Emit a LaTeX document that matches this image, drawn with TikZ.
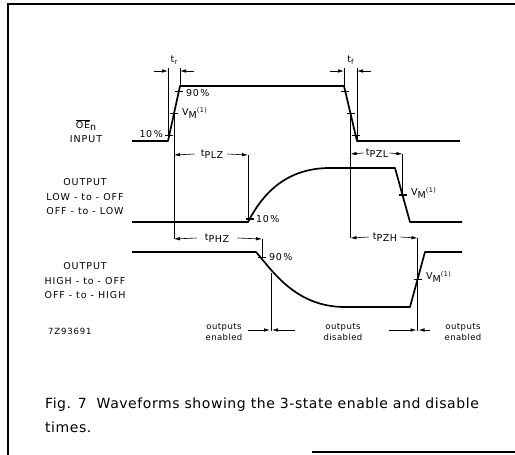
\documentclass[tikz,border=0pt]{standalone}
\usepackage{fontspec}
\setmainfont{DejaVu Sans}
\usetikzlibrary{arrows.meta}
\newcommand{\tsb}[1]{t\raisebox{-2.5pt}{#1}}
\newcommand{\vmone}{V\raisebox{-3pt}{M}\raisebox{3.5pt}{\fontsize{6.5}{7}\selectfont(1)}}
\begin{document}
\begin{tikzpicture}[x=1pt,y=-1pt,
  wave/.style={line width=1.7pt,line join=round},
  refl/.style={line width=0.6pt},
  tickm/.style={line width=1.1pt},
  arr/.style={line width=0.6pt,-{Latex[length=6pt,width=3.5pt]}},
  lbl/.style={font=\fontsize{9.5}{10}\selectfont\addfontfeature{LetterSpace=6},inner sep=0pt},
  side/.style={font=\fontsize{9.5}{14.5}\selectfont\addfontfeature{LetterSpace=10},inner sep=0pt,align=center},
  small/.style={font=\fontsize{8.5}{10.5}\selectfont\addfontfeature{LetterSpace=5},inner sep=0pt,align=center},
  frame/.style={line width=1.1pt}]
\useasboundingbox (0,0) rectangle (515,455);
% frame
\coordinate (f1) at (8,455); \coordinate (f2) at (8,4); \coordinate (f3) at (515,4);
\coordinate (f4) at (312,452); \coordinate (f5) at (515,452);
\draw[frame] (f1) -- (f2) -- (f3);
\draw[frame] (f4) -- (f5);

% ---- OE input waveform
\coordinate (a0) at (132,141); \coordinate (a1) at (168,141);
\coordinate (a2) at (180,86);  \coordinate (a3) at (344,86);
\coordinate (a4) at (357,141); \coordinate (a5) at (460,141);
\draw[wave] (a0) -- (a1) -- (a2) -- (a3) -- (a4) -- (a5);
\coordinate (a10) at (169.2,135.5); \coordinate (avm) at (174,113.5); \coordinate (a90) at (178.8,91.5);
\coordinate (b90) at (345.3,91.5); \coordinate (bvm) at (350.5,113.5); \coordinate (b10) at (355.7,135.5);
\foreach \p in {a10,avm,a90,b90,bvm,b10}
  \draw[tickm] ([xshift=-4pt]\p) -- ([xshift=4pt]\p);

% ---- output LOW-to-OFF
\coordinate (c0) at (132,222); \coordinate (c1) at (248,222);
\coordinate (c2) at (330,168); \coordinate (c3) at (395,168);
\coordinate (c4) at (410,222); \coordinate (c5) at (462,222);
\draw[wave] (c0) -- (c1) .. controls (262,195) and (285,168) .. (c2) -- (c3) -- (c4) -- (c5);
\coordinate (c10) at (250,219); \coordinate (cvm) at (402.5,195);
\foreach \p in {c10,cvm}
  \draw[tickm] ([xshift=-4pt]\p) -- ([xshift=4pt]\p);

% ---- output HIGH-to-OFF
\coordinate (d0) at (132,252); \coordinate (d1) at (256,252);
\coordinate (d2) at (345,307); \coordinate (d3) at (410,307);
\coordinate (d4) at (425,252); \coordinate (d5) at (462,252);
\draw[wave] (d0) -- (d1) .. controls (272,270) and (295,307) .. (d2) -- (d3) -- (d4) -- (d5);
\coordinate (d90) at (262,257.5); \coordinate (dvm) at (417.5,279.5);
\foreach \p in {d90,dvm}
  \draw[tickm] ([xshift=-4pt]\p) -- ([xshift=4pt]\p);

% ---- reference lines
\coordinate (tr1) at (168,68); \coordinate (tr2) at (180,68);
\coordinate (tf1) at (344,68); \coordinate (tf2) at (357,68);
\draw[refl] (tr1) -- (a1); \draw[refl] (tr2) -- (a2);
\draw[refl] (tf1) -- (a3); \draw[refl] (tf2) -- (a4);
\coordinate (vA) at (174,239); \draw[refl] (avm) -- (vA);
\coordinate (vB) at (350.5,238); \draw[refl] (bvm) -- (vB);
\coordinate (plz2) at (248,155); \draw[refl] (plz2) -- (c1);
\coordinate (phz2) at (262,239); \draw[refl] (phz2) -- (d90);
\coordinate (pzl2) at (402.5,154); \draw[refl] (pzl2) -- (cvm);
\coordinate (pzh2) at (417.5,238); \coordinate (en2) at (417.5,331); \draw[refl] (pzh2) -- (en2);
\coordinate (dis1) at (271,273); \coordinate (en1) at (271,331); \draw[refl] (dis1) -- (en1);

% ---- tr / tf
\coordinate (tra) at (154,71); \coordinate (trb) at (168,71);
\coordinate (trc) at (194,71); \coordinate (trd) at (180,71);
\draw[arr] (tra) -- (trb); \draw[arr] (trc) -- (trd);
\node[lbl] (trl) at (174,60) {t\raisebox{-2.5pt}{\fontsize{7}{8}\selectfont r}};
\coordinate (tfa) at (330,71); \coordinate (tfb) at (344,71);
\coordinate (tfc) at (371,71); \coordinate (tfd) at (357,71);
\draw[arr] (tfa) -- (tfb); \draw[arr] (tfc) -- (tfd);
\node[lbl] (tfl) at (350.5,60) {t\raisebox{-2.5pt}{\fontsize{7}{8}\selectfont f}};

% ---- interval arrows
\coordinate (plz1) at (174,155);
\node[lbl] (plz) at (212,154) {\tsb{PLZ}};
\draw[arr] ([xshift=-6pt]plz.west) -- (plz1);
\draw[arr] ([xshift=4pt]plz.east) -- (plz2);

\coordinate (phz1) at (174,239);
\node[lbl] (phz) at (217,238) {\tsb{PHZ}};
\draw[arr] ([xshift=-8pt]phz.west) -- (phz1);
\draw[arr] ([xshift=8pt]phz.east) -- (phz2);

\coordinate (pzl1) at (350.5,154);
\node[lbl] (pzl) at (377,153) {\tsb{PZL}};
\draw[arr] ([xshift=-2pt]pzl.west) -- (pzl1);
\draw[arr] ([xshift=1pt]pzl.east) -- (pzl2);

\coordinate (pzh1) at (350.5,238);
\node[lbl] (pzh) at (385,237) {\tsb{PZH}};
\draw[arr] ([xshift=-4pt]pzh.west) -- (pzh1);
\draw[arr] ([xshift=3pt]pzh.east) -- (pzh2);

% ---- level labels
\node[lbl,anchor=west] (l90) at (186,93) {90\,\%};
\node[lbl,anchor=west] (lvm) at (182,113) {\vmone};
\node[lbl,anchor=east] (l10) at (163,134) {10\,\%};
\node[lbl,anchor=west] (l10b) at (256,219) {10\,\%};
\node[lbl,anchor=west] (l90b) at (269,257) {90\,\%};
\node[lbl,anchor=west] (lvmb) at (411,193) {\vmone};
\node[lbl,anchor=west] (lvmc) at (426,277) {\vmone};

% ---- side labels
\node[side] (s1) at (86,131) {$\overline{\mbox{OE}}$\raisebox{-2.5pt}{n}\\INPUT};
\node[side] (s2) at (85,197) {OUTPUT\\LOW - to - OFF\\OFF - to - LOW};
\node[side] (s3) at (85,281) {OUTPUT\\HIGH - to - OFF\\OFF - to - HIGH};
\node[small,anchor=west,font=\fontsize{8.5}{10}\selectfont\addfontfeature{LetterSpace=10}] (code) at (48,331) {7Z93691};

% ---- outputs enabled / disabled
\coordinate (oe1) at (271,330); \coordinate (oe2) at (417.5,330);
\node[small] (t1) at (224,332) {outputs\\enabled};
\node[small] (t2) at (343,332) {outputs\\disabled};
\node[small] (t3) at (463,332) {outputs\\enabled};
\draw[arr] (t1.east |- oe1) ++(5pt,0) -- ([xshift=-1pt]oe1);
\draw[arr] (t2.west |- oe1) ++(-28pt,0) -- ([xshift=1pt]oe1);
\draw[arr] (t2.east |- oe1) ++(26pt,0) -- ([xshift=-1pt]oe2);
\draw[arr] (t3.west |- oe2) ++(-14pt,0) -- ([xshift=1pt]oe2);

% ---- caption
\node[anchor=west,inner sep=0pt,align=left,font=\fontsize{14}{24}\selectfont\addfontfeature{LetterSpace=4}] (cap) at (45,415)
  {Fig. 7\ \ Waveforms showing the 3-state enable and disable\\times.};
\end{tikzpicture}
\end{document}
